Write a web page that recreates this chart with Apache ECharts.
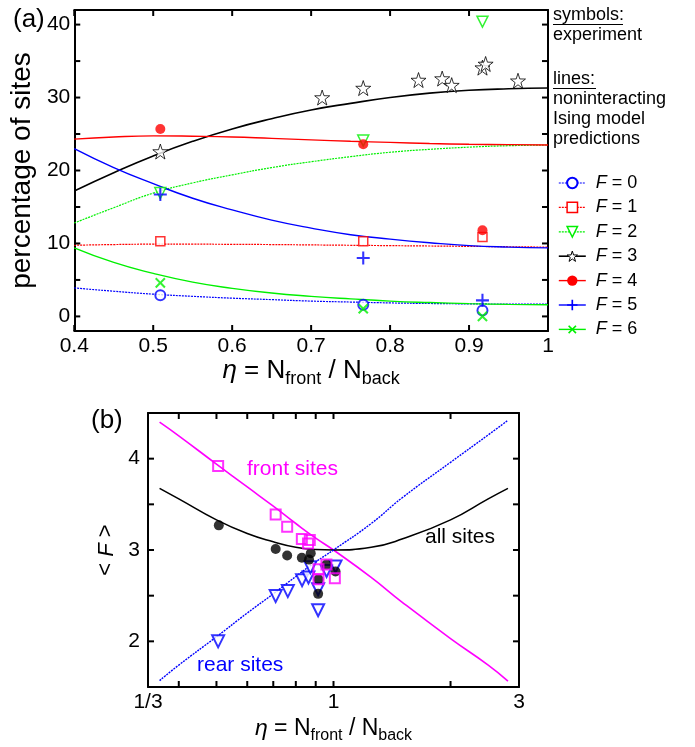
<!DOCTYPE html>
<html>
<head>
<meta charset="utf-8">
<script src="https://cdn.jsdelivr.net/npm/echarts@6/dist/echarts.min.js"></script>
<style>
html,body{margin:0;padding:0;background:#fff;}
#chart{width:695px;height:747px;}
</style>
</head>
<body>
<div id="chart"></div>
<script>
// ---------- Panel (a): percentage of sites with F occupied, vs eta ----------
const etaModelA = [0.40, 0.45, 0.50, 0.55, 0.60, 0.65, 0.70, 0.75, 0.80, 0.85, 0.90, 0.95, 1.00];
const modelF0 = [3.9, 3.45, 3.05, 2.75, 2.5, 2.3, 2.1, 1.97, 1.85, 1.77, 1.72, 1.7, 1.7];
const modelF1 = [9.75, 9.85, 9.9, 9.9, 9.88, 9.85, 9.8, 9.75, 9.7, 9.65, 9.6, 9.55, 9.5];
const modelF2 = [12.8, 14.9, 16.9, 18.3, 19.4, 20.4, 21.2, 21.9, 22.5, 22.9, 23.2, 23.4, 23.5];
const modelF3 = [17.2, 19.7, 22.0, 24.0, 25.7, 27.1, 28.3, 29.2, 30.0, 30.6, 31.0, 31.2, 31.3];
const modelF4 = [24.3, 24.6, 24.75, 24.7, 24.6, 24.4, 24.2, 24.0, 23.85, 23.7, 23.6, 23.55, 23.5];
const modelF5 = [23.0, 20.4, 18.2, 16.2, 14.6, 13.2, 12.1, 11.2, 10.6, 10.1, 9.7, 9.5, 9.4];
const modelF6 = [9.4, 7.4, 5.9, 4.7, 3.85, 3.2, 2.75, 2.4, 2.1, 1.9, 1.75, 1.65, 1.6];

const etaExpA = [0.509, 0.766, 0.917];
const expF0 = [2.9, 1.6, 0.8];
const expF1 = [10.3, 10.3, 10.9];
const expF2 = [16.9, 24.1, 40.4];
const expF4 = [25.7, 23.6, 11.8];
const expF5 = [16.7, 8.0, 2.2];
const expF6 = [4.6, 1.05, 0.0];
const etaStarA = [0.509, 0.714, 0.766, 0.836, 0.866, 0.878, 0.917, 0.921, 0.962];
const expF3 = [22.6, 30.0, 31.3, 32.4, 32.6, 31.7, 34.1, 34.6, 32.3];

const xTicksA = [0.4, 0.5, 0.6, 0.7, 0.8, 0.9, 1.0];
const yLabelsA = [0, 10, 20, 30, 40];
const yTicksA = [0, 5, 10, 15, 20, 25, 30, 35, 40];

// ---------- Panel (b): mean occupancy <F> vs eta (log scale) ----------
const etaModelB = [0.357, 0.4, 0.5, 0.6, 0.7, 0.8, 0.9, 1.0, 1.25, 1.5, 2.0, 2.5, 2.81];
const modelFront = [4.40, 4.25, 3.94, 3.69, 3.48, 3.29, 3.13, 3.0, 2.70, 2.43, 2.03, 1.74, 1.565];
const modelRear = [1.57, 1.74, 2.05, 2.31, 2.52, 2.71, 2.87, 3.0, 3.29, 3.57, 3.96, 4.26, 4.42];
const modelAll = [3.675, 3.56, 3.33, 3.18, 3.09, 3.03, 3.005, 3.0, 3.03, 3.12, 3.33, 3.56, 3.675];

const frontEta = [0.505, 0.710, 0.760, 0.829, 0.869, 0.860, 0.959, 0.915, 0.915, 1.008];
const frontF = [3.92, 3.39, 3.255, 3.12, 3.11, 3.07, 2.84, 2.79, 2.68, 2.69];
const allEta = [0.507, 0.710, 0.760, 0.829, 0.874, 0.865, 0.913, 0.915, 0.959, 1.012];
const allF = [3.27, 3.01, 2.94, 2.915, 2.965, 2.895, 2.52, 2.68, 2.84, 2.765];
const rearEta = [0.505, 0.710, 0.763, 0.830, 0.862, 0.872, 0.913, 0.913, 0.960, 1.012];
const rearF = [2.00, 2.495, 2.55, 2.67, 2.70, 2.81, 2.57, 2.34, 2.77, 2.82];

const xTicksB = [0.4, 0.5, 0.6, 0.7, 0.8, 0.9, 1, 2];
const yLabelsB = [2, 3, 4];
const yTicksB = [2, 2.5, 3, 3.5, 4];

const legendNames = ['F = 0', 'F = 1', 'F = 2', 'F = 3', 'F = 4', 'F = 5', 'F = 6'];

// ---------- styling ----------
const FONT = 'Liberation Sans, Arial, Helvetica, sans-serif';
const BLUE = '#0000ff', RED = '#ff0000', GREEN = '#00f000', BLACK = '#000000', MAGENTA = '#ff00ff';
const STAR = 'path://M10,0 L12.4,7.2 L20,7.3 L13.9,11.8 L16.2,19 L10,14.6 L3.8,19 L6.1,11.8 L0,7.3 L7.6,7.2 Z';
const PLUS = 'path://M4.2,0 H5.8 V4.2 H10 V5.8 H5.8 V10 H4.2 V5.8 H0 V4.2 H4.2 Z';
const DOTTED = [2, 1];
const TICK_LEN = 6;

const pairs = (xs, ys) => xs.map((x, i) => [x, ys[i]]);

// per-F appearance: marker + model line
const fStyles = [
  { model: modelF0, ex: etaExpA, ey: expF0, symbol: 'circle', size: 10, rot: 0,
    item: { color: '#fff', borderColor: BLUE, borderWidth: 2 }, line: { color: BLUE, width: 1.2, type: DOTTED } },
  { model: modelF1, ex: etaExpA, ey: expF1, symbol: 'rect', size: 9, rot: 0,
    item: { color: '#fff', borderColor: RED, borderWidth: 1.5 }, line: { color: RED, width: 1.2, type: DOTTED } },
  { model: modelF2, ex: etaExpA, ey: expF2, symbol: 'triangle', size: 11, rot: 180,
    item: { color: '#fff', borderColor: GREEN, borderWidth: 1.5 }, line: { color: GREEN, width: 1.2, type: DOTTED } },
  { model: modelF3, ex: etaStarA, ey: expF3, symbol: STAR, size: 15, rot: 0,
    item: { color: '#fff', borderColor: BLACK, borderWidth: 1 }, line: { color: BLACK, width: 1.6, type: 'solid' } },
  { model: modelF4, ex: etaExpA, ey: expF4, symbol: 'circle', size: 10, rot: 0,
    item: { color: RED, borderColor: RED, borderWidth: 0 }, line: { color: RED, width: 1.4, type: 'solid' } },
  { model: modelF5, ex: etaExpA, ey: expF5, symbol: PLUS, size: 13, rot: 0,
    item: { color: BLUE, borderColor: BLUE, borderWidth: 0 }, line: { color: BLUE, width: 1.4, type: 'solid' } },
  { model: modelF6, ex: etaExpA, ey: expF6, symbol: PLUS, size: 13, rot: 45,
    item: { color: GREEN, borderColor: GREEN, borderWidth: 0 }, line: { color: GREEN, width: 1.4, type: 'solid' } }
];

const series = [];
// model curves first (these carry the legend entries)
fStyles.forEach((s, k) => {
  series.push({
    type: 'line', name: legendNames[k], xAxisIndex: 0, yAxisIndex: 0,
    data: pairs(etaModelA, s.model), smooth: true, showSymbol: false,
    symbol: s.symbol, symbolSize: s.size, symbolRotate: s.rot,
    itemStyle: s.item, lineStyle: s.line, silent: true, z: 2
  });
});
// experimental points
fStyles.forEach((s, k) => {
  series.push({
    type: 'scatter', name: 'exp ' + legendNames[k], xAxisIndex: 0, yAxisIndex: 0,
    data: pairs(s.ex, s.ey), symbol: s.symbol, symbolSize: s.size, symbolRotate: s.rot,
    itemStyle: s.item, silent: true, z: 3
  });
});

// panel (b) curves and points
series.push(
  { type: 'line', name: 'front model', xAxisIndex: 1, yAxisIndex: 1, data: pairs(etaModelB, modelFront),
    smooth: true, showSymbol: false, lineStyle: { color: MAGENTA, width: 1.6 }, silent: true, z: 2 },
  { type: 'line', name: 'all model', xAxisIndex: 1, yAxisIndex: 1, data: pairs(etaModelB, modelAll),
    smooth: true, showSymbol: false, lineStyle: { color: BLACK, width: 1.6 }, silent: true, z: 2 },
  { type: 'line', name: 'rear model', xAxisIndex: 1, yAxisIndex: 1, data: pairs(etaModelB, modelRear),
    smooth: true, showSymbol: false, lineStyle: { color: BLUE, width: 1.4, type: DOTTED }, silent: true, z: 2 },
  { type: 'scatter', name: 'rear exp', xAxisIndex: 1, yAxisIndex: 1, data: pairs(rearEta, rearF),
    symbol: 'triangle', symbolRotate: 180, symbolSize: 12,
    itemStyle: { color: '#fff', borderColor: BLUE, borderWidth: 2 }, silent: true, z: 3 },
  { type: 'scatter', name: 'all exp', xAxisIndex: 1, yAxisIndex: 1, data: pairs(allEta, allF),
    symbol: 'circle', symbolSize: 10, itemStyle: { color: BLACK }, silent: true, z: 4 },
  { type: 'scatter', name: 'front exp', xAxisIndex: 1, yAxisIndex: 1, data: pairs(frontEta, frontF),
    symbol: 'rect', symbolSize: 10,
    itemStyle: { color: 'rgba(255,255,255,0)', borderColor: MAGENTA, borderWidth: 2 }, silent: true, z: 5 }
);

// axis ranges
const A_X = [0.4, 1.0], A_Y = [-2, 42];
const B_X = [1 / 3, 3], B_Y = [1.5, 4.5];

const frame = () => ({ show: true, onZero: false, lineStyle: { color: '#000', width: 2 } });

const subRich = {
  e: { fontStyle: 'italic', fontSize: 26, fontFamily: FONT },
  s: { fontSize: 18, fontFamily: FONT, padding: [16, 0, 0, 0] }
};
const subRichB = {
  e: { fontStyle: 'italic', fontSize: 23, fontFamily: FONT },
  s: { fontSize: 16, fontFamily: FONT, padding: [14, 0, 0, 0] }
};

const textItems = [
  { type: 'text', left: 13, top: 7, style: { text: '(a)', font: '26px ' + FONT, fill: '#000' } },
  { type: 'text', left: 91, top: 408, style: { text: '(b)', font: '26px ' + FONT, fill: '#000' } },
  { type: 'text', left: 553, top: 6, style: { text: 'symbols:', font: '18px ' + FONT, fill: '#000' } },
  { type: 'line', shape: { x1: 553, y1: 24.5, x2: 623, y2: 24.5 }, style: { stroke: '#000', lineWidth: 1 } },
  { type: 'text', left: 553, top: 26, style: { text: 'experiment', font: '18px ' + FONT, fill: '#000' } },
  { type: 'text', left: 553, top: 70, style: { text: 'lines:', font: '18px ' + FONT, fill: '#000' } },
  { type: 'line', shape: { x1: 553, y1: 88.5, x2: 596, y2: 88.5 }, style: { stroke: '#000', lineWidth: 1 } },
  { type: 'text', left: 553, top: 90, style: { text: 'noninteracting', font: '18px ' + FONT, fill: '#000' } },
  { type: 'text', left: 553, top: 110.5, style: { text: 'Ising model', font: '18px ' + FONT, fill: '#000' } },
  { type: 'text', left: 553, top: 130.5, style: { text: 'predictions', font: '18px ' + FONT, fill: '#000' } },
  { type: 'text', left: 247, top: 459, style: { text: 'front sites', font: '21px ' + FONT, fill: MAGENTA } },
  { type: 'text', left: 425, top: 527, style: { text: 'all sites', font: '21px ' + FONT, fill: '#000' } },
  { type: 'text', left: 197, top: 655, style: { text: 'rear sites', font: '21px ' + FONT, fill: BLUE } }
];

const option = {
  animation: false,
  backgroundColor: '#fff',
  textStyle: { fontFamily: FONT },
  grid: [
    { left: 72, top: 10, width: 476, height: 321 },
    { left: 148, top: 413, width: 371, height: 274 }
  ],
  xAxis: [
    { type: 'value', gridIndex: 0, position: 'bottom', min: A_X[0], max: A_X[1],
      axisLine: frame(), splitLine: { show: false }, axisTick: { show: false },
      axisLabel: { customValues: xTicksA, color: '#000', fontSize: 21, margin: 5,
        formatter: v => String(Math.round(v * 10) / 10) },
      name: '{e|η} = N{s|front} / N{s|back}', nameLocation: 'middle', nameGap: 14,
      nameTextStyle: { color: '#000', fontSize: 26, fontFamily: FONT, rich: subRich } },
    { type: 'log', logBase: 3, gridIndex: 1, position: 'bottom', min: B_X[0], max: B_X[1],
      axisLine: frame(), splitLine: { show: false }, axisTick: { show: false }, minorTick: { show: false },
      axisLabel: { color: '#000', fontSize: 21, margin: 5,
        formatter: v => (v < 0.5 ? '1/3' : String(Math.round(v))) },
      name: '{e|η} = N{s|front} / N{s|back}', nameLocation: 'middle', nameGap: 27,
      nameTextStyle: { color: '#000', fontSize: 23, fontFamily: FONT, rich: subRichB } },
    { type: 'value', gridIndex: 0, position: 'top', min: A_X[0], max: A_X[1],
      axisLine: frame(), splitLine: { show: false }, axisLabel: { show: false }, axisTick: { show: false } },
    { type: 'log', logBase: 3, gridIndex: 1, position: 'top', min: B_X[0], max: B_X[1],
      axisLine: frame(), splitLine: { show: false }, axisLabel: { show: false }, axisTick: { show: false },
      minorTick: { show: false } }
  ],
  yAxis: [
    { type: 'value', gridIndex: 0, position: 'left', min: A_Y[0], max: A_Y[1],
      axisLine: frame(), splitLine: { show: false }, axisTick: { show: false },
      axisLabel: { customValues: yLabelsA, color: '#000', fontSize: 21, margin: 4 },
      name: 'percentage of sites', nameLocation: 'middle', nameRotate: 90, nameGap: 27,
      nameTextStyle: { color: '#000', fontSize: 28, fontFamily: FONT } },
    { type: 'value', gridIndex: 1, position: 'left', min: B_Y[0], max: B_Y[1],
      axisLine: frame(), splitLine: { show: false }, axisTick: { show: false },
      axisLabel: { customValues: yLabelsB, color: '#000', fontSize: 21, margin: 8 },
      name: '< {i|F} >', nameLocation: 'middle', nameRotate: 90, nameGap: 29,
      nameTextStyle: { color: '#000', fontSize: 22, fontFamily: FONT,
        rich: { i: { fontStyle: 'italic', fontSize: 22, fontFamily: FONT } } } },
    { type: 'value', gridIndex: 0, position: 'right', min: A_Y[0], max: A_Y[1],
      axisLine: frame(), splitLine: { show: false }, axisLabel: { show: false }, axisTick: { show: false } },
    { type: 'value', gridIndex: 1, position: 'right', min: B_Y[0], max: B_Y[1],
      axisLine: frame(), splitLine: { show: false }, axisLabel: { show: false }, axisTick: { show: false } }
  ],
  legend: {
    orient: 'vertical', left: 558, top: 174, padding: 0, itemWidth: 27, itemHeight: 13, itemGap: 6.4,
    selectedMode: false,
    data: fStyles.map((s, k) => ({ name: legendNames[k], itemStyle: s.item, lineStyle: s.line })),
    formatter: name => '{i|F}' + name.slice(1),
    textStyle: { color: '#000', fontSize: 18, lineHeight: 18, fontFamily: FONT,
      rich: { i: { fontStyle: 'italic', fontSize: 18, fontFamily: FONT, padding: [0, 0, 0, 5] } } }
  },
  graphic: textItems,
  series: series
};

const chart = echarts.init(document.getElementById('chart'), null, { renderer: 'canvas' });
chart.setOption(option);

// inward frame ticks, placed with the axes' own data-to-pixel mapping
function frameTicks(finder, points, dx, dy) {
  return points.map(pt => {
    const p = chart.convertToPixel(finder, pt);
    return { type: 'line', z: 100, silent: true,
             shape: { x1: p[0], y1: p[1], x2: p[0] + dx, y2: p[1] + dy },
             style: { stroke: '#000', lineWidth: 2 } };
  });
}
try {
  const fa = { xAxisIndex: 0, yAxisIndex: 0 };
  const fb = { xAxisIndex: 1, yAxisIndex: 1 };
  const ticks = [].concat(
    frameTicks(fa, xTicksA.map(v => [v, A_Y[0]]), 0, -TICK_LEN),
    frameTicks(fa, xTicksA.map(v => [v, A_Y[1]]), 0, TICK_LEN),
    frameTicks(fa, yTicksA.map(v => [A_X[0], v]), TICK_LEN, 0),
    frameTicks(fa, yTicksA.map(v => [A_X[1], v]), -TICK_LEN, 0),
    frameTicks(fb, xTicksB.map(v => [v, B_Y[0]]), 0, -TICK_LEN),
    frameTicks(fb, xTicksB.map(v => [v, B_Y[1]]), 0, TICK_LEN),
    frameTicks(fb, yTicksB.map(v => [B_X[0], v]), TICK_LEN, 0),
    frameTicks(fb, yTicksB.map(v => [B_X[1], v]), -TICK_LEN, 0)
  ).filter(t => isFinite(t.shape.x1) && isFinite(t.shape.y1));
  chart.setOption({ graphic: textItems.concat(ticks) });
} catch (e) {
  // leave the chart as drawn if pixel conversion is unavailable
}
</script>
</body>
</html>
